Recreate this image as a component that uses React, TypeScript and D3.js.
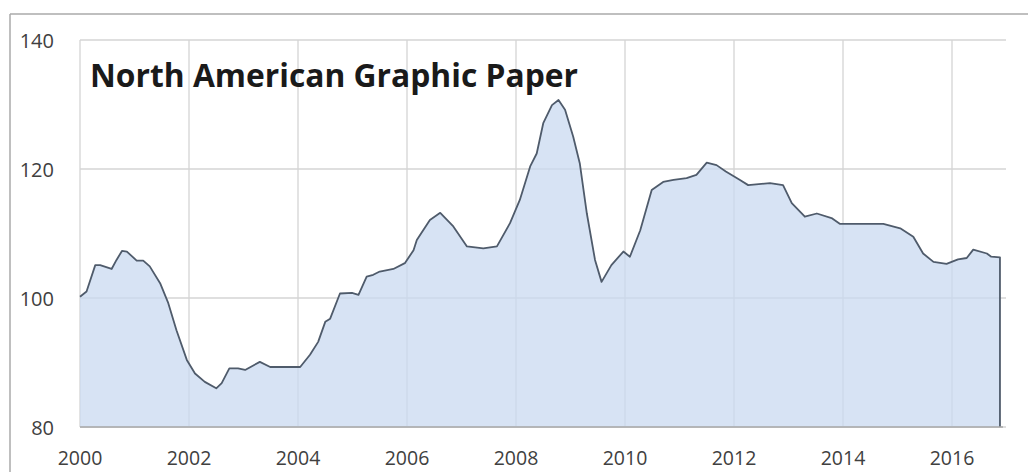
import React from "react";
import * as d3 from "d3";

const years: number[] = [
  2000.0, 2000.12, 2000.28, 2000.37, 2000.58, 2000.67, 2000.77, 2000.86, 2001.04, 2001.16,
  2001.28, 2001.47, 2001.62, 2001.77, 2001.96, 2002.11, 2002.29, 2002.5, 2002.6, 2002.74,
  2002.9, 2003.03, 2003.3, 2003.49, 2004.04, 2004.22, 2004.37, 2004.5, 2004.59, 2004.77,
  2004.99, 2005.11, 2005.26, 2005.38, 2005.5, 2005.75, 2005.96, 2006.12, 2006.18, 2006.42,
  2006.61, 2006.85, 2007.1, 2007.4, 2007.65, 2007.89, 2008.07, 2008.26, 2008.38, 2008.5,
  2008.66, 2008.78, 2008.9, 2009.05, 2009.17, 2009.3, 2009.45, 2009.57, 2009.75, 2009.97,
  2010.09, 2010.28, 2010.49, 2010.7, 2010.89, 2011.13, 2011.31, 2011.5, 2011.68, 2011.85,
  2012.11, 2012.26, 2012.66, 2012.9, 2013.06, 2013.3, 2013.52, 2013.79, 2013.94, 2014.74,
  2015.05, 2015.29, 2015.47, 2015.66, 2015.9, 2016.11, 2016.27, 2016.39, 2016.64, 2016.72,
  2016.88,
];

const values: number[] = [
  100.2, 101, 105.1, 105.1, 104.5, 105.9, 107.3, 107.2, 105.8, 105.8,
  104.9, 102.3, 99.2, 95, 90.4, 88.3, 87, 86, 86.8, 89.1,
  89.1, 88.85, 90.1, 89.3, 89.3, 91.2, 93.2, 96.3, 96.8, 100.7,
  100.8, 100.5, 103.3, 103.6, 104.1, 104.5, 105.4, 107.4, 109, 112.1,
  113.2, 111.1, 108, 107.7, 108, 111.6, 115.2, 120.4, 122.4, 127.1,
  129.9, 130.7, 129.2, 125, 120.9, 113.1, 105.9, 102.5, 105.1, 107.2,
  106.4, 110.5, 116.75, 118, 118.3, 118.6, 119.1, 121, 120.6, 119.6,
  118.3, 117.5, 117.8, 117.5, 114.7, 112.6, 113.1, 112.4, 111.5, 111.5,
  110.8, 109.5, 106.9, 105.6, 105.3, 106, 106.2, 107.5, 106.9, 106.4,
  106.3,
];

const yTicks: number[] = [80, 100, 120, 140];
const xTicks: number[] = [2000, 2002, 2004, 2006, 2008, 2010, 2012, 2014, 2016];
const title = "North American Graphic Paper";

export default function App() {
  const W = 1028;
  const H = 472;
  const x = d3.scaleLinear().domain([2000, 2017]).range([80, 1006.5]);
  const y = d3.scaleLinear().domain([80, 140]).range([427, 40]);
  const data = years.map((yr, i) => ({ yr, v: values[i] }));

  const area = d3
    .area<{ yr: number; v: number }>()
    .x((d) => x(d.yr))
    .y0(y(80))
    .y1((d) => y(d.v));
  const line = d3
    .line<{ yr: number; v: number }>()
    .x((d) => x(d.yr))
    .y((d) => y(d.v));

  const last = data[data.length - 1];
  const linePath = line(data) + `L${x(last.yr)},${y(80)}`;
  const gridRight = 1006;

  return (
    <svg
      width={W}
      height={H}
      style={{ position: "absolute", left: 0, top: 0, display: "block", background: "#fff" }}
    >
      <line x1={10} y1={14} x2={W} y2={14} stroke="#aaaaaa" strokeWidth={1.5} />
      <line x1={10} y1={14} x2={10} y2={H} stroke="#aaaaaa" strokeWidth={1.5} />

      {yTicks.map((t) => (
        <line key={"h" + t} x1={x(2000)} x2={gridRight} y1={y(t)} y2={y(t)} stroke="#d4d4d4" strokeWidth={1.3} />
      ))}
      {xTicks.map((t) => (
        <line key={"v" + t} x1={x(t)} x2={x(t)} y1={y(140)} y2={y(80)} stroke="#d4d4d4" strokeWidth={1.3} />
      ))}

      <path d={area(data) || ""} fill="#c9d9f0" fillOpacity={0.75} />
      <path d={linePath} fill="none" stroke="#4f5b6b" strokeWidth={1.8} strokeLinejoin="round" />

      <line x1={x(2000)} x2={gridRight - 3} y1={y(80)} y2={y(80)} stroke="#a8a8a8" strokeWidth={1.5} />

      {yTicks.map((t) => (
        <text
          key={"yl" + t}
          x={54}
          y={y(t)}
          textAnchor="end"
          dominantBaseline="central"
          fontFamily="'Open Sans', sans-serif"
          fontSize={20}
          fill="#404040"
        >
          {t}
        </text>
      ))}
      {xTicks.map((t) => (
        <text
          key={"xl" + t}
          x={x(t)}
          y={457}
          textAnchor="middle"
          dominantBaseline="central"
          fontFamily="'Open Sans', sans-serif"
          fontSize={19.5}
          fill="#404040"
        >
          {t}
        </text>
      ))}

      <text
        x={90}
        y={87}
        fontFamily="'Open Sans', sans-serif"
        fontWeight="bold"
        fontSize={32}
        fill="#1a1a1a"
        textLength={488}
        lengthAdjust="spacingAndGlyphs"
      >
        {title}
      </text>
    </svg>
  );
}
